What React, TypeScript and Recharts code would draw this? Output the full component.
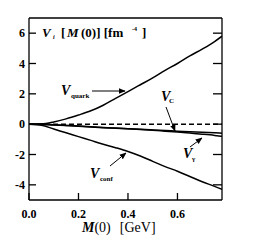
import { LineChart, Line, XAxis, YAxis, ReferenceLine } from "recharts";

const mass = [0, 0.05, 0.1, 0.15, 0.2, 0.25, 0.3, 0.35, 0.4, 0.45, 0.5, 0.55, 0.6, 0.65, 0.7, 0.75, 0.78];
const vQuark = [0, 0.02, 0.15, 0.35, 0.6, 0.88, 1.25, 1.7, 2.15, 2.6, 3.05, 3.55, 4.0, 4.5, 4.95, 5.45, 5.8];
const vConf = [0, -0.07, -0.32, -0.57, -0.82, -1.07, -1.32, -1.55, -1.8, -2.1, -2.45, -2.8, -3.1, -3.45, -3.8, -4.1, -4.3];
const vC = [0, -0.01, -0.04, -0.08, -0.12, -0.17, -0.22, -0.26, -0.3, -0.34, -0.38, -0.42, -0.46, -0.5, -0.53, -0.57, -0.6];
const vGamma = [0, -0.01, -0.05, -0.09, -0.13, -0.18, -0.23, -0.27, -0.31, -0.35, -0.4, -0.46, -0.52, -0.59, -0.66, -0.74, -0.8];

const xTicks = [0, 0.2, 0.4, 0.6];
const yTicks = [-4, -2, 0, 2, 4, 6];

const data = mass.map((m, i) => ({
  m,
  quark: vQuark[i],
  conf: vConf[i],
  c: vC[i],
  gamma: vGamma[i],
}));

const font = "'Liberation Serif', 'DejaVu Serif', serif";

const LeftTick = (props: any) => {
  const { x, y, payload } = props;
  return (
    <g>
      <line x1={x} x2={x + 7} y1={y} y2={y} stroke="#000" strokeWidth={1.3} />
      <text x={x - 4} y={y} dy={4} textAnchor="end" fontSize={12} fontWeight="bold" fontFamily={font} fill="#000">
        {payload.value}
      </text>
    </g>
  );
};

const RightTick = (props: any) => {
  const { x, y } = props;
  return <line x1={x} x2={x - 9} y1={y} y2={y} stroke="#000" strokeWidth={1.3} />;
};

const BottomTick = (props: any) => {
  const { x, y, payload } = props;
  return (
    <g>
      <line x1={x} x2={x} y1={y} y2={y - 7} stroke="#000" strokeWidth={1.3} />
      <text x={x} y={y + 18} textAnchor="middle" fontSize={12} fontWeight="bold" fontFamily={font} fill="#000">
        {payload.value.toFixed(1)}
      </text>
    </g>
  );
};

export default function App() {
  return (
    <div style={{ position: "absolute", left: 0, top: 0, width: 259, height: 240, background: "#fff" }}>
      <LineChart width={259} height={240} data={data} margin={{ top: 18, right: 0, bottom: 0, left: 0 }}>
        <XAxis
          dataKey="m"
          type="number"
          domain={[0, 0.78]}
          ticks={xTicks}
          height={40}
          tickSize={0}
          tickMargin={0}
          tickLine={false}
          tick={<BottomTick />}
          axisLine={{ stroke: "#000", strokeWidth: 1.3 }}
          allowDataOverflow
        />
        <YAxis
          yAxisId="l"
          type="number"
          domain={[-5, 7]}
          ticks={yTicks}
          width={29}
          tickSize={0}
          tickMargin={0}
          tickLine={false}
          tick={<LeftTick />}
          axisLine={{ stroke: "#000", strokeWidth: 1.3 }}
          allowDataOverflow
        />
        <YAxis
          yAxisId="r"
          orientation="right"
          type="number"
          domain={[-5, 7]}
          ticks={yTicks}
          width={37}
          tickSize={0}
          tickMargin={0}
          tickLine={false}
          tick={<RightTick />}
          axisLine={{ stroke: "#000", strokeWidth: 1.3 }}
          allowDataOverflow
        />
        <ReferenceLine yAxisId="l" y={7} stroke="#000" strokeWidth={1.3} />
        <ReferenceLine yAxisId="l" y={0} stroke="#000" strokeWidth={1.5} strokeDasharray="5 3" />
        <Line yAxisId="l" type="monotone" dataKey="quark" stroke="#000" strokeWidth={1.5} dot={false} isAnimationActive={false} />
        <Line yAxisId="l" type="monotone" dataKey="conf" stroke="#000" strokeWidth={1.5} dot={false} isAnimationActive={false} />
        <Line yAxisId="l" type="monotone" dataKey="c" stroke="#000" strokeWidth={1.5} dot={false} isAnimationActive={false} />
        <Line yAxisId="l" type="monotone" dataKey="gamma" stroke="#000" strokeWidth={1.5} dot={false} isAnimationActive={false} />
      </LineChart>
      <svg
        width={259}
        height={240}
        style={{ position: "absolute", left: 0, top: 0, pointerEvents: "none" }}
        fontFamily={font}
        fontWeight="bold"
      >
        <defs>
          <marker id="ah" viewBox="0 0 10 10" refX="9" refY="5" markerWidth="7" markerHeight="7" orient="auto">
            <path d="M0,1 L10,5 L0,9 z" fill="#000" />
          </marker>
        </defs>
        <text x={42} y={37} fontSize={13} fill="#000">
          <tspan fontStyle="italic">V</tspan>
          <tspan x={53} y={39} fontSize={6} fontStyle="italic">i</tspan>
          <tspan x={61} y={37}>[</tspan>
          <tspan x={67} fontStyle="italic">M</tspan>
          <tspan x={81}>(0)] [fm</tspan>
          <tspan x={132} y={31} fontSize={6}>-4</tspan>
          <tspan x={142} y={37}>]</tspan>
        </text>

        <text x={61} y={95} fontSize={14} fill="#000">
          <tspan fontStyle="italic">V</tspan>
          <tspan x={71} y={98} fontSize={7}>quark</tspan>
        </text>
        <line x1={92} y1={91} x2={125} y2={91} stroke="#000" strokeWidth={1} markerEnd="url(#ah)" />

        <text x={161} y={101} fontSize={14} fill="#000">
          <tspan fontStyle="italic">V</tspan>
          <tspan x={169} y={103} fontSize={7}>C</tspan>
        </text>
        <line x1={166} y1={107} x2={175} y2={131} stroke="#000" strokeWidth={1} markerEnd="url(#ah)" />

        <text x={183} y={158} fontSize={14} fill="#000">
          <tspan fontStyle="italic">V</tspan>
          <tspan x={192} y={161} fontSize={7}>γ</tspan>
        </text>
        <line x1={190} y1={147} x2={202} y2={138} stroke="#000" strokeWidth={1} markerEnd="url(#ah)" />

        <text x={90} y={178} fontSize={14} fill="#000">
          <tspan fontStyle="italic">V</tspan>
          <tspan x={100} y={181} fontSize={7}>conf</tspan>
        </text>
        <line x1={110} y1={166} x2={126} y2={153} stroke="#000" strokeWidth={1} markerEnd="url(#ah)" />

        <text x={82} y={232} fontSize={14} fill="#000" fontWeight="normal">
          <tspan fontStyle="italic" fontWeight="bold">M</tspan>
          <tspan>(0)</tspan>
          <tspan dx={9}>[GeV]</tspan>
        </text>
      </svg>
    </div>
  );
}
